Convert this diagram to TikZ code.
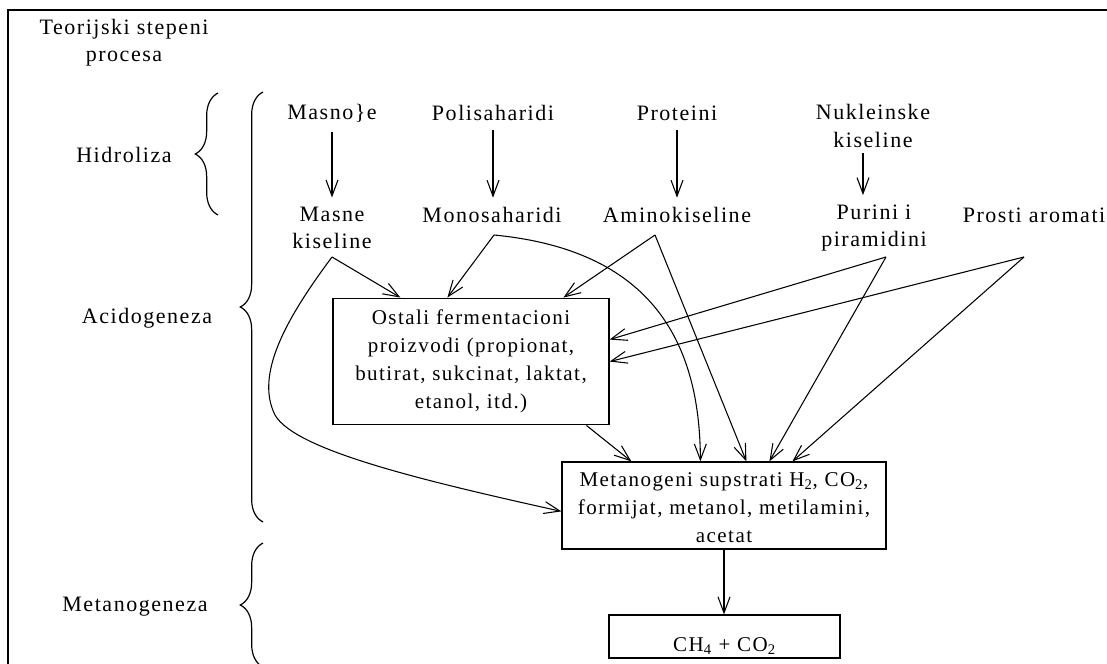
\documentclass[tikz,border=0pt]{standalone}
\usepackage{fontspec}
\setmainfont[LetterSpace=7]{Liberation Serif}
\usetikzlibrary{arrows.meta,decorations.pathreplacing,calc}
\begin{document}
\begin{tikzpicture}[x=0.75pt,y=-0.75pt,
  lbl/.style={font=\fontsize{16.5}{20.5}\selectfont, align=center, inner sep=1pt},
  box/.style={draw, line width=0.9pt, font=\fontsize{15.75}{21}\selectfont, align=center, inner sep=3pt},
  arr/.style={-{Straight Barb[length=12pt,width=9pt]}, line width=0.8pt},
  vert/.style={arr, shorten <=6pt, shorten >=6pt},
  brc/.style={decorate, decoration={brace, amplitude=17pt}, line width=0.9pt},
  frame/.style={line width=1.8pt}]
\useasboundingbox (0,0) rectangle (1107,664);
% frame
\draw[frame] (8,670) -- (8,10) -- (1112,10);
% stage labels
\node[lbl] (title) at (124,43) {Teorijski stepeni\\procesa};
\node[lbl] (hid) at (124,155) {Hidroliza};
\node[lbl] (acid) at (147,318) {Acidogeneza};
\node[lbl] (metg) at (135,607) {Metanogeneza};
% braces
\draw[brc] (218,215) -- (218,93);
\draw[brc] (263,522) -- (263,92);
\draw[brc] (263,667) -- (263,543);
% substrates
\node[lbl] (masnoce) at (332,113) {Masno\}e};
\node[lbl] (polis) at (493,113) {Polisaharidi};
\node[lbl] (prot) at (677,113) {Proteini};
\node[lbl] (nuk) at (873,126) {Nukleinske\\kiseline};
\node[lbl] (masne) at (332,228) {Masne\\kiseline};
\node[lbl] (mono) at (492,215) {Monosaharidi};
\node[lbl] (amino) at (677,215) {Aminokiseline};
\node[lbl] (purini) at (874,228) {Purini i\\piramidini};
\node[lbl] (prosti) at (1034,215) {Prosti aromati};
% boxes
\node[box, minimum width=207pt, minimum height=95pt] (ostali) at (471,361.5)
  {Ostali fermentacioni\\proizvodi (propionat,\\butirat, sukcinat, laktat,\\etanol, itd.)};
\node[box, minimum width=243pt, minimum height=65.25pt] (metan) at (724,505.5)
  {\rule{0pt}{14pt}Metanogeni supstrati H\textsubscript{2}, CO\textsubscript{2},\\formijat, metanol, metilamini,\\acetat};
\node[box, minimum width=173.25pt, minimum height=32.25pt, inner ysep=0pt, text height=27.5pt, text depth=4.5pt] (ch4) at (724.5,636.5)
  {CH\textsubscript{4} + CO\textsubscript{2}};
% hydrolysis arrows
\draw[vert] (masnoce.south) -- (masne.north);
\draw[vert] (polis.south) -- (polis.south |- mono.north);
\draw[vert] (prot.south) -- (prot.south |- amino.north);
\draw[arr, shorten <=3pt, shorten >=6pt] ([xshift=-7.5pt]nuk.south) -- ([xshift=-7.5pt]nuk.south |- purini.north);
% vertices
\coordinate (vMasne) at (332,257);
\coordinate (vMono) at (494,235);
\coordinate (vAmino) at (655,235);
\coordinate (vPurini) at (886,257);
\coordinate (vProsti) at (1024,257);
% into ostali
\draw[arr] (vMasne) -- ($(ostali.north west)+(68,0)$);
\draw[arr] (vMono) -- ($(ostali.north west)+(115,0)$);
\draw[arr] (vAmino) -- ($(ostali.north west)+(231,0)$);
\draw[arr] (vPurini) -- ($(ostali.north east)+(0,42)$);
\draw[arr] (vProsti) -- ($(ostali.north east)+(0,64)$);
% into metan
\draw[arr] ($(ostali.south west)+(254,0)$) -- ($(metan.north west)+(70,0)$);
\draw[arr] (vMono) .. controls (650,250) and (700,340) .. ($(metan.north west)+(139,0)$);
\draw[arr] (vAmino) -- ($(metan.north west)+(185,0)$);
\draw[arr] (vPurini) -- ($(metan.north west)+(208,0)$);
\draw[arr] (vProsti) -- ($(metan.north west)+(231,0)$);
\draw[arr] (vMasne) .. controls (285,320) and (255,375) .. (275,415)
  .. controls (295,450) and (420,480) .. ($(metan.north west)+(0,50)$);
% methanogenesis
\draw[arr] (metan.south) -- (metan.south |- ch4.north);
\end{tikzpicture}
\end{document}
